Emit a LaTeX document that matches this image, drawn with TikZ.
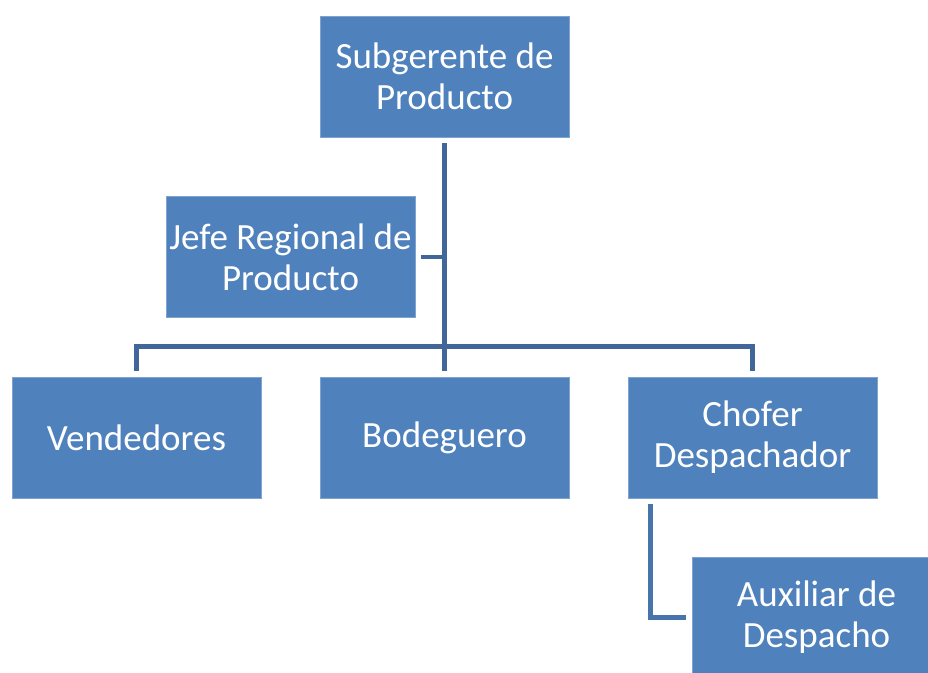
\documentclass[tikz,border=0pt]{standalone}
\usepackage{fontspec}
\setmainfont{Carlito}
\definecolor{boxblue}{HTML}{4F81BD}
\definecolor{linkblue}{HTML}{41669A}
\definecolor{edgeblue}{HTML}{7FA3D0}
\begin{document}
\begin{tikzpicture}[x=1pt,y=-1pt,
  orgbox/.style={fill=boxblue,draw=edgeblue,line width=0.6pt,text=white,
    minimum width=249pt,minimum height=121pt,inner sep=0pt,
    align=center,font=\fontsize{37}{41}\selectfont},
  conn/.style={draw=linkblue,line width=4.5pt}]
\useasboundingbox (0,0) rectangle (928,672);
\begin{scope}
\clip (0,0) rectangle (928,672);
\node[orgbox] (sub) at (444.5,76.5) {Subgerente de\\Producto};
\node[orgbox] (jefe) at (290.5,257) {Jefe Regional de\\Producto};
\node[orgbox] (ven) at (136.5,437.5) {Vendedores};
\node[orgbox] (bod) at (444.5,437.5) {Bodeguero};
\node[orgbox] (cho) at (752.5,437.5) {Chofer\\Despachador};
\node[orgbox] (aux) at (816.5,617.5) {Auxiliar de\\Despacho};
\end{scope}
\draw[conn] ([yshift=-6pt]sub.south) -- ([yshift=6pt]bod.north);
\draw[conn] ([xshift=6pt]jefe.east) -- (jefe.east -| sub.south);
\draw[conn] ([yshift=6pt]ven.north) -- ++(0,-24) -| ([yshift=6pt]cho.north);
\draw[conn,draw=boxblue!90!black] ([xshift=23pt,yshift=-6pt]cho.south west) |- ([xshift=-6pt]aux.west);
\end{tikzpicture}
\end{document}
